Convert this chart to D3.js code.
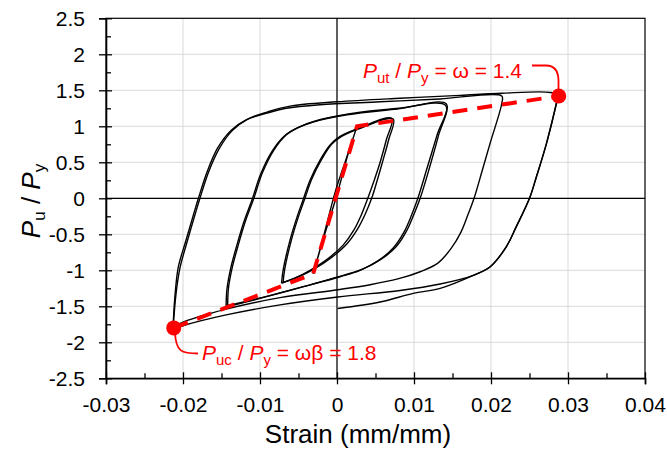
<!DOCTYPE html>
<html>
<head>
<meta charset="utf-8">
<script src="https://cdn.jsdelivr.net/npm/d3@7"></script>
<style>
  body { margin: 0; background: #fff; }
  svg { display: block; font-family: "Liberation Sans", Arial, sans-serif; }
  .grid line { stroke: #d9d9d9; stroke-width: 1; }
  .loop { fill: none; stroke: #000; stroke-width: 1.4; stroke-linejoin: round; }
</style>
</head>
<body>
<svg id="chart" width="667" height="454"></svg>
<script>
// axis ticks
var xTicks = [-0.03, -0.02, -0.01, 0, 0.01, 0.02, 0.03, 0.04];
var xMinor = [-0.025, -0.015, -0.005, 0.005, 0.015, 0.025, 0.035];
var yTicks = [-2.5, -2, -1.5, -1, -0.5, 0, 0.5, 1, 1.5, 2, 2.5];
var yMinor = [-2.25, -1.75, -1.25, -0.75, -0.25, 0.25, 0.75, 1.25, 1.75, 2.25];

// hysteresis loops, [strain, Pu/Py]
var loop1 = [[-0.0031,-1.05],[-0.0018,-0.55],[-0.0002,0.1],[0.0012,0.55],[0.0026,1.0],
             [0.0014,0.6],[0.0000,0.05],[-0.0016,-0.5],[-0.0031,-1.05]];

var loop2 = [[-0.0072,-1.18],[-0.0070,-1.0],[-0.0061,-0.58],[-0.0051,-0.23],[-0.0044,-0.02],
             [-0.0035,0.25],[-0.0022,0.53],[-0.0009,0.74],[0.0004,0.86],[0.0030,0.98],[0.0071,1.11],
             [0.0064,0.81],[0.0056,0.50],[0.0048,0.24],[0.0040,0.0],[0.0032,-0.22],[0.0022,-0.44],
             [0.0008,-0.65],[-0.0012,-0.84],[-0.0035,-1.0],[-0.0055,-1.11],[-0.0072,-1.18]];

// second cycle at the same amplitude
var loop2b = [[-0.0070,-1.17],[-0.0068,-0.99],[-0.0059,-0.57],[-0.0049,-0.22],[-0.0042,-0.01],
              [-0.0033,0.26],[-0.0020,0.54],[-0.0007,0.75],[0.0006,0.86],[0.0032,0.98],[0.0073,1.10],
              [0.0067,0.81],[0.0059,0.50],[0.0052,0.24],[0.0045,0.0],[0.0037,-0.21],[0.0027,-0.42],
              [0.0013,-0.63],[-0.0007,-0.82],[-0.0031,-0.99],[-0.0052,-1.10],[-0.0070,-1.17]];

var loop3 = [[-0.0144,-1.51],[-0.0143,-1.27],[-0.0138,-0.97],[-0.0130,-0.65],[-0.0121,-0.33],
             [-0.0110,-0.01],[-0.0099,0.34],[-0.0084,0.66],[-0.0068,0.87],[-0.0051,0.98],
             [-0.0031,1.06],[0.0013,1.16],[0.0078,1.24],[0.0142,1.31],
             [0.0130,0.88],[0.0117,0.42],[0.0105,0.0],[0.0097,-0.23],[0.0087,-0.47],
             [0.0073,-0.69],[0.0053,-0.87],[0.0030,-1.0],[0.0004,-1.09],[-0.0048,-1.24],
             [-0.0100,-1.39],[-0.0144,-1.51]];

var loop3b = [[-0.0142,-1.49],[-0.0141,-1.25],[-0.0136,-0.96],[-0.0128,-0.64],[-0.0119,-0.32],
              [-0.0108,0.0],[-0.0097,0.35],[-0.0082,0.67],[-0.0066,0.88],[-0.0049,0.99],
              [-0.0029,1.07],[0.0015,1.17],[0.0080,1.25],[0.0141,1.29],
              [0.0132,0.88],[0.0120,0.42],[0.0108,0.0],[0.0100,-0.22],[0.0090,-0.46],
              [0.0077,-0.67],[0.0057,-0.85],[0.0034,-0.98],[0.0008,-1.07],[-0.0045,-1.23],
              [-0.0098,-1.38],[-0.0142,-1.49]];

var loop4 = [[-0.0213,-1.79],[-0.0210,-1.3],[-0.0206,-0.95],[-0.0196,-0.58],[-0.0184,-0.14],
             [-0.0180,0.0],[-0.0169,0.36],[-0.0155,0.70],[-0.0137,0.95],[-0.0118,1.09],[-0.0092,1.18],
             [-0.0066,1.25],[-0.0022,1.30],[0.0056,1.34],[0.0134,1.38],[0.0214,1.42],
             [0.0214,1.32],[0.0199,0.77],[0.0189,0.40],[0.0178,0.0],[0.0170,-0.23],[0.0161,-0.47],
             [0.0148,-0.70],[0.0131,-0.90],[0.0108,-1.02],[0.0079,-1.12],[0.0043,-1.20],
             [0.0001,-1.27],[-0.0074,-1.38],[-0.0144,-1.54],[-0.0200,-1.72],[-0.0213,-1.79]];

var loop5 = [[-0.0213,-1.82],[-0.0209,-1.32],[-0.0204,-0.97],[-0.0194,-0.58],[-0.0182,-0.14],
             [-0.0178,0.0],[-0.0167,0.36],[-0.0153,0.69],[-0.0136,0.94],[-0.0116,1.10],[-0.0090,1.20],
             [-0.0061,1.28],[0.0000,1.34],[0.0082,1.39],[0.0160,1.43],[0.0214,1.46],
             [0.0277,1.47],[0.0287,1.43],
             [0.0285,1.32],[0.0272,0.76],[0.0259,0.30],[0.0250,0.0],[0.0233,-0.39],
             [0.0220,-0.67],[0.0199,-0.95],[0.0177,-1.07],[0.0134,-1.19],[0.0082,-1.28],
             [0.0001,-1.37],[-0.0074,-1.48],[-0.0144,-1.62],[-0.0200,-1.77],[-0.0213,-1.82]];

// last tension excursion, ends at zero strain
var tail = [[0.0287,1.41],[0.0285,1.32],[0.0272,0.76],[0.0259,0.30],[0.0250,0.0],[0.0233,-0.39],
            [0.0220,-0.67],[0.0199,-0.95],[0.0177,-1.07],[0.0134,-1.25],[0.0099,-1.32],
            [0.0056,-1.44],[0.0001,-1.53]];

var loops = [loop1, loop2, loop2b, loop3, loop3b, loop4, loop5, tail];

// idealised backbone
var backbone = [[-0.0212,-1.8],[-0.0031,-1.05],[0.0026,1.0],[0.0288,1.42]];
var peaks = [[-0.0212,-1.8],[0.0288,1.42]];

var svg = d3.select("#chart");

var x = d3.scaleLinear().domain([-0.03, 0.04]).range([106, 645]);
var y = d3.scaleLinear().domain([-2.5, 2.5]).range([378.3, 18.3]);

// gridlines
var grid = svg.append("g").attr("class", "grid");
grid.selectAll(".gx").data(xTicks.slice(1, -1)).enter().append("line")
    .attr("x1", function(d) { return x(d); }).attr("x2", function(d) { return x(d); })
    .attr("y1", y(2.5)).attr("y2", y(-2.5));
grid.selectAll(".gy").data(yTicks.slice(1, -1)).enter().append("line")
    .attr("x1", x(-0.03)).attr("x2", x(0.04))
    .attr("y1", function(d) { return y(d); }).attr("y2", function(d) { return y(d); });

// zero lines
svg.append("line").attr("x1", x(0)).attr("x2", x(0)).attr("y1", y(2.5)).attr("y2", y(-2.5))
    .attr("stroke", "#000").attr("stroke-width", 1.2);
svg.append("line").attr("x1", x(-0.03)).attr("x2", x(0.04)).attr("y1", y(0)).attr("y2", y(0))
    .attr("stroke", "#000").attr("stroke-width", 1.2);

// plot border
svg.append("rect").attr("x", x(-0.03)).attr("y", y(2.5))
    .attr("width", x(0.04) - x(-0.03)).attr("height", y(-2.5) - y(2.5))
    .attr("fill", "none").attr("stroke", "#000").attr("stroke-width", 1.2);

// loops
var line = d3.line()
    .x(function(d) { return x(d[0]); })
    .y(function(d) { return y(d[1]); })
    .curve(d3.curveCatmullRom.alpha(0.5));

svg.append("g").selectAll("path").data(loops).enter().append("path")
    .attr("class", "loop")
    .attr("d", line);

// backbone
svg.append("path").datum(backbone)
    .attr("d", d3.line().x(function(d) { return x(d[0]); }).y(function(d) { return y(d[1]); }))
    .attr("fill", "none").attr("stroke", "#ff0000").attr("stroke-width", 4)
    .attr("stroke-dasharray", "15,10");

svg.selectAll(".peak").data(peaks).enter().append("circle")
    .attr("cx", function(d) { return x(d[0]); })
    .attr("cy", function(d) { return y(d[1]); })
    .attr("r", 7.5).attr("fill", "#ff0000");

// axes
function fmt(d) { return String(d); }

var xAxis = svg.append("g").attr("transform", "translate(0," + y(-2.5) + ")")
    .call(d3.axisBottom(x).tickValues(xTicks).tickFormat(fmt).tickSizeOuter(0).tickSize(6).tickPadding(13));
xAxis.selectAll(".tick").append("line").attr("y2", -6).attr("stroke", "#000");
svg.append("g").attr("transform", "translate(0," + y(-2.5) + ")")
    .call(d3.axisBottom(x).tickValues(xMinor).tickFormat("").tickSizeOuter(0).tickSize(-5))
    .select(".domain").remove();

var yAxis = svg.append("g").attr("transform", "translate(" + x(-0.03) + ",0)")
    .call(d3.axisLeft(y).tickValues(yTicks).tickFormat(fmt).tickSizeOuter(0).tickSize(7).tickPadding(14));
yAxis.selectAll(".tick").append("line").attr("x2", 6).attr("stroke", "#000");
svg.append("g").attr("transform", "translate(" + x(-0.03) + ",0)")
    .call(d3.axisLeft(y).tickValues(yMinor).tickFormat("").tickSizeOuter(0).tickSize(-5))
    .select(".domain").remove();

svg.selectAll(".domain").attr("stroke-width", 1.6);
svg.selectAll(".tick line").attr("stroke-width", 1.3);
svg.selectAll(".tick text").attr("font-size", 21).attr("fill", "#000")
    .attr("font-family", "'Liberation Sans', Arial, sans-serif");

// axis titles
svg.append("text").attr("x", 358).attr("y", 443)
    .attr("text-anchor", "middle").attr("font-size", 26).text("Strain (mm/mm)");

var yt = svg.append("text").attr("transform", "translate(40,201) rotate(-90)")
    .attr("text-anchor", "middle").attr("font-size", 26);
yt.append("tspan").attr("font-style", "italic").text("P");
yt.append("tspan").attr("font-size", 17).attr("dy", 5).text("u");
yt.append("tspan").attr("dy", -5).text(" / ");
yt.append("tspan").attr("font-style", "italic").text("P");
yt.append("tspan").attr("font-size", 17).attr("dy", 5).text("y");

// annotations
function note(tx, ty, sub1, rest) {
  var t = svg.append("text").attr("x", tx).attr("y", ty).attr("font-size", 21).attr("fill", "#ff0000");
  t.append("tspan").attr("font-style", "italic").text("P");
  t.append("tspan").attr("font-size", 15).attr("dy", 5).text(sub1);
  t.append("tspan").attr("dy", -5).text(" / ");
  t.append("tspan").attr("font-style", "italic").text("P");
  t.append("tspan").attr("font-size", 15).attr("dy", 5).text("y");
  t.append("tspan").attr("dy", -5).text(rest);
}
note(363, 78, "ut", " = ω = 1.4");
note(202, 360, "uc", " = ωβ = 1.8");

svg.append("path").attr("d", "M532,65.5 L546,65.5 Q558,65.5 558.5,80 L558.5,92")
    .attr("fill", "none").attr("stroke", "#ff0000").attr("stroke-width", 1.8);
svg.append("path").attr("d", "M175,333 C176,352 182,353.5 198,353.5")
    .attr("fill", "none").attr("stroke", "#ff0000").attr("stroke-width", 1.8);
</script>
</body>
</html>
